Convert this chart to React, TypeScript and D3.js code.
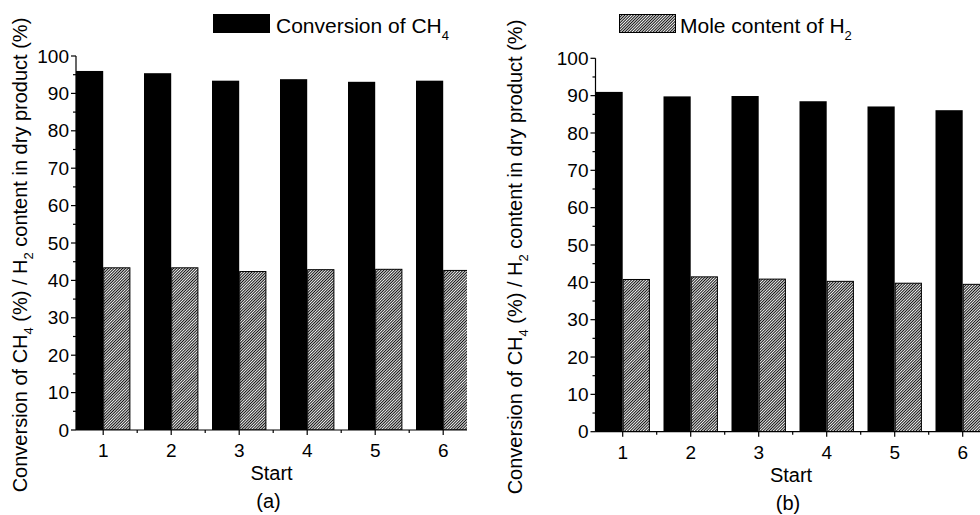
import React from 'react';
import * as d3 from 'd3';

const starts = [1, 2, 3, 4, 5, 6];
const xTickLabels = ['1', '2', '3', '4', '5', '6'];
const yMajorTicks = [0, 10, 20, 30, 40, 50, 60, 70, 80, 90, 100];
const yMinorTicks = [5, 15, 25, 35, 45, 55, 65, 75, 85, 95];
const xMinorTicks = [1.5, 2.5, 3.5, 4.5, 5.5];

const conversionA = [96.0, 95.4, 93.4, 93.8, 93.1, 93.4];
const h2A = [43.5, 43.5, 42.5, 43.0, 43.1, 42.8];
const conversionB = [91.0, 89.8, 89.9, 88.5, 87.1, 86.1];
const h2B = [40.9, 41.6, 41.0, 40.4, 39.9, 39.6];

const FONT = '"Liberation Sans", Arial, Helvetica, sans-serif';
const BAR_W = 0.4;

type PanelProps = {
  id: string;
  xLeft: number;
  yZero: number;
  yTop: number;
  conv: number[];
  h2: number[];
  panelLabel: string;
  titleX: number;
};

function Panel({ id, xLeft, yZero, yTop, conv, h2, panelLabel, titleX }: PanelProps) {
  const x = d3.scaleLinear().domain([0.6, 6.35]).range([xLeft, xLeft + 5.75 * 68]);
  const y = d3.scaleLinear().domain([0, 100]).range([yZero, yTop]);
  const [xa, xb] = x.range();
  const cx = (xa + xb) / 2;
  const titleY = (yZero + yTop) / 2 + 12;
  return (
    <g>
      <defs>
        <clipPath id={`clip-${id}`}>
          <rect x={xa} y={yTop - 10} width={xb - xa} height={yZero - yTop + 10} />
        </clipPath>
      </defs>
      <g clipPath={`url(#clip-${id})`}>
        {starts.map((s, i) => (
          <rect key={`c${i}`} x={x(s - BAR_W)} y={y(conv[i])} width={x(s) - x(s - BAR_W)} height={y(0) - y(conv[i])} fill="#000" />
        ))}
        {starts.map((s, i) => (
          <rect key={`h${i}`} x={x(s) + 0.5} y={y(h2[i]) + 0.5} width={x(s + BAR_W) - x(s) - 1} height={y(0) - y(h2[i]) - 0.5} fill="url(#hatch)" stroke="#000" strokeWidth={1} />
        ))}
      </g>
      <line x1={xa} x2={xa} y1={yTop} y2={yZero} stroke="#000" strokeWidth={1.2} />
      <line x1={xa} x2={xb} y1={yZero} y2={yZero} stroke="#000" strokeWidth={1.2} />
      {yMajorTicks.map((t) => (
        <g key={`ym${t}`}>
          <line x1={xa - 5} x2={xa} y1={y(t)} y2={y(t)} stroke="#000" strokeWidth={1.2} />
          <text x={xa - 7} y={y(t)} dy="0.35em" textAnchor="end" fontSize={19} fontFamily={FONT}>{t}</text>
        </g>
      ))}
      {yMinorTicks.map((t) => (
        <line key={`yn${t}`} x1={xa - 3} x2={xa} y1={y(t)} y2={y(t)} stroke="#000" strokeWidth={1.2} />
      ))}
      {starts.map((s, i) => (
        <g key={`xm${s}`}>
          <line x1={x(s)} x2={x(s)} y1={yZero} y2={yZero + 5} stroke="#000" strokeWidth={1.2} />
          <text x={x(s)} y={yZero + 27} textAnchor="middle" fontSize={19} fontFamily={FONT}>{xTickLabels[i]}</text>
        </g>
      ))}
      {xMinorTicks.map((t) => (
        <line key={`xn${t}`} x1={x(t)} x2={x(t)} y1={yZero} y2={yZero + 3} stroke="#000" strokeWidth={1.2} />
      ))}
      <text x={cx} y={yZero + 50} textAnchor="middle" fontSize={20} fontFamily={FONT}>Start</text>
      <text x={cx - 3} y={yZero + 78} textAnchor="middle" fontSize={20} fontFamily={FONT}>{panelLabel}</text>
      <text transform={`translate(${titleX},${titleY}) rotate(-90)`} textAnchor="middle" fontSize={20} fontFamily={FONT}>
        Conversion of CH<tspan fontSize={13} dy={6}>4</tspan><tspan dy={-6}> (%) / H</tspan><tspan fontSize={13} dy={6}>2</tspan><tspan dy={-6}> content in dry product (%)</tspan>
      </text>
    </g>
  );
}

export default function App() {
  return (
    <svg width={980} height={515} style={{ position: 'absolute', left: 0, top: 0, background: '#fff' }}>
      <defs>
        <pattern id="hatch" patternUnits="userSpaceOnUse" width={2} height={2} patternTransform="rotate(45)">
          <rect width={2} height={2} fill="#fff" />
          <rect width={1.05} height={2} fill="#111" />
        </pattern>
      </defs>
      <rect width={980} height={515} fill="#fff" />
      <Panel id="a" xLeft={76} yZero={430} yTop={56} conv={conversionA} h2={h2A} panelLabel="(a)" titleX={27} />
      <Panel id="b" xLeft={595.5} yZero={431.7} yTop={58.3} conv={conversionB} h2={h2B} panelLabel="(b)" titleX={522} />
      <rect x={213} y={14} width={57} height={19} fill="#000" />
      <text x={276} y={32.5} fontSize={21} fontFamily={FONT}>
        Conversion of CH<tspan fontSize={13} dy={7}>4</tspan>
      </text>
      <rect x={619.5} y={14.5} width={56} height={18} fill="url(#hatch)" stroke="#000" strokeWidth={1} />
      <text x={680} y={32.5} fontSize={21} fontFamily={FONT}>
        Mole content of H<tspan fontSize={13} dy={7}>2</tspan>
      </text>
    </svg>
  );
}
